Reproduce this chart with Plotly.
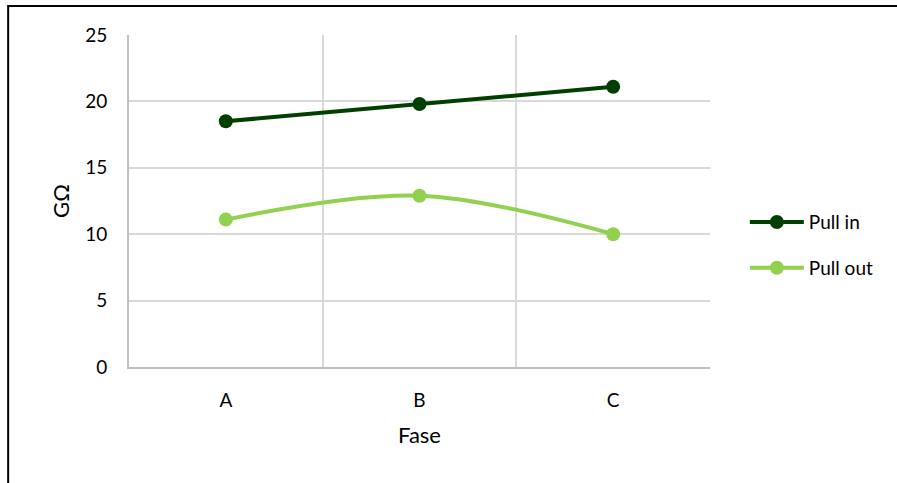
import plotly.graph_objects as go

# Insulation resistance per phase
fases = ["A", "B", "C"]
pull_in = [18.5, 19.8, 21.1]
pull_out = [11.1, 12.9, 10.0]

FONT = "Lato, 'Open Sans', sans-serif"
DARK = "#013F01"
LIGHT = "#92D050"

fig = go.Figure()
fig.add_trace(go.Scatter(
    x=fases, y=pull_in, name="Pull in", mode="lines+markers", legendgroup="in",
    line=dict(color=DARK, width=4), marker=dict(size=14, color=DARK),
))
fig.add_trace(go.Scatter(
    x=fases, y=pull_out, name="Pull out", mode="lines+markers", legendgroup="out",
    line=dict(color=LIGHT, width=4, shape="spline", smoothing=1.0),
    marker=dict(size=14, color=LIGHT),
))

fig.update_layout(
    width=897, height=483,
    margin=dict(l=129, r=187, t=35, b=116),
    paper_bgcolor="white", plot_bgcolor="white",
    font=dict(family=FONT, size=19, color="#000000"),
    showlegend=True,
    legend=dict(
        x=1.06, y=0.367, xanchor="left", yanchor="middle",
        font=dict(family=FONT, size=19, color="#000000"),
        bgcolor="rgba(0,0,0,0)", tracegroupgap=18, itemwidth=54,
    ),
    xaxis=dict(
        type="category", range=[-0.5, 2.5],
        tickson="boundaries", ticks="",
        tickfont=dict(family=FONT, size=19),
        showgrid=True, gridcolor="#D9D9D9", gridwidth=2,
        showline=True, linecolor="#BFBFBF", linewidth=2,
        ticklabelstandoff=15,
        title=dict(text="Fase", font=dict(family=FONT, size=22), standoff=18),
        zeroline=False,
    ),
    yaxis=dict(
        range=[0, 25], dtick=5, ticks="",
        tickfont=dict(family=FONT, size=19),
        showgrid=True, gridcolor="#D9D9D9", gridwidth=2,
        showline=True, linecolor="#BFBFBF", linewidth=2,
        ticklabelstandoff=16,
        title=dict(text="GΩ", font=dict(family=FONT, size=22), standoff=9),
        zeroline=False,
    ),
    shapes=[dict(
        type="rect", xref="paper", yref="paper",
        x0=-0.208, x1=2.0, y0=-1.0, y1=1.0873,
        line=dict(color="#000000", width=2), fillcolor="rgba(0,0,0,0)",
        layer="below",
    )],
)

fig.write_html("out.html")
